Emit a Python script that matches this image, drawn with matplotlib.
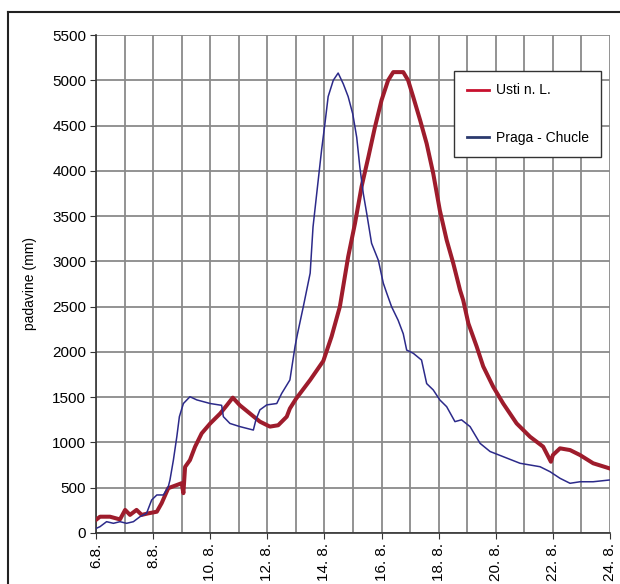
#!/usr/bin/env python3
"""Vodostaj / padavine: Usti n. L. vs Praga - Chucle, avgust."""

import matplotlib
matplotlib.use('Agg')
import matplotlib.pyplot as plt
from matplotlib.lines import Line2D

plt.rcParams['font.family'] = ['Liberation Sans', 'DejaVu Sans']
plt.rcParams['font.size'] = 10

# Usti n. L. (day of August, value)
usti_days = [6.0, 6.14, 6.49, 6.84, 7.02, 7.19, 7.42, 7.6, 7.83, 8.13, 8.3,
             8.53, 8.83, 9.0, 9.06, 9.12, 9.29, 9.47, 9.7, 10.0, 10.35, 10.58,
             10.79, 11.04, 11.39, 11.74, 12.09, 12.38, 12.68, 12.79, 13.0,
             13.5, 13.96, 14.25, 14.54, 14.83, 15.07, 15.3, 15.54, 15.77,
             16.0, 16.23, 16.41, 16.76, 16.93, 17.11, 17.35, 17.58, 17.81,
             18.04, 18.28, 18.51, 18.75, 18.86, 19.04, 19.33, 19.56, 19.91,
             20.26, 20.73, 21.2, 21.66, 21.93, 22.0, 22.25, 22.6, 22.95,
             23.41, 23.97]
usti = [145, 180, 180, 150, 255, 200, 255, 200, 217, 235, 330,
        495, 530, 550, 440, 730, 805, 953, 1100, 1210, 1320, 1410,
        1495, 1410, 1320, 1230, 1175, 1190, 1285, 1375, 1480,
        1690, 1900, 2170, 2500, 3050, 3420, 3825, 4155, 4485,
        4780, 5000, 5090, 5090, 5000, 4815, 4560, 4300, 3970,
        3565, 3235, 2980, 2680, 2570, 2315, 2060, 1840, 1615,
        1430, 1210, 1063, 953, 787, 861, 935, 916, 861,
        770, 715]

# Praga - Chucle
praga_days = [6.0, 6.14, 6.37, 6.61, 6.84, 7.07, 7.31, 7.54, 7.77, 7.95,
              8.13, 8.36, 8.53, 8.59, 8.71, 8.83, 8.92, 9.06, 9.29, 9.53,
              10.0, 10.4, 10.46, 10.69, 11.04, 11.51, 11.6, 11.74, 11.98,
              12.33, 12.5, 12.79, 12.97, 13.05, 13.26, 13.5, 13.6, 13.73,
              13.9, 14.02, 14.13, 14.31, 14.48, 14.66, 14.83, 14.99, 15.13,
              15.24, 15.36, 15.48, 15.65, 15.89, 16.06, 16.18, 16.35, 16.58,
              16.76, 16.88, 17.11, 17.4, 17.58, 17.81, 18.04, 18.28, 18.57,
              18.8, 19.1, 19.45, 19.8, 20.26, 20.85, 21.55, 21.9, 22.25,
              22.6, 22.95, 23.41, 23.97]
praga = [50, 70, 125, 107, 125, 107, 125, 180, 217, 365,
         420, 420, 510, 585, 805, 1063, 1285, 1430, 1505, 1470,
         1430, 1410, 1285, 1210, 1175, 1137, 1250, 1360, 1415,
         1430, 1540, 1690, 2060, 2190, 2500, 2870, 3380, 3750,
         4230, 4530, 4820, 5000, 5080, 4960, 4820, 4630, 4370,
         4040, 3750, 3530, 3200, 3010, 2760, 2650, 2500, 2350,
         2200, 2020, 1985, 1910, 1650, 1580, 1470, 1395, 1230,
         1250, 1175, 990, 900, 843, 770, 732, 677, 604,
         549, 566, 566, 585]

x_ticks = list(range(6, 25, 2))
x_labels = [f'{d}. 8.' if d >= 10 else f'{d}.8.' for d in x_ticks]
y_ticks = list(range(0, 5501, 500))

RED = '#9e1c2c'
BLUE = '#2c2a8a'
GRID = '#8a8a8a'


def main():
    fig = plt.figure(figsize=(6.2, 5.84), dpi=100)
    ax = fig.add_axes([96 / 620, 1 - 533 / 584, 514 / 620, 498 / 584])

    ax.plot(usti_days, usti, color=RED, lw=2.9, label='Usti n. L.', zorder=3)
    ax.plot(praga_days, praga, color=BLUE, lw=1.1, label='Praga - Chucle', zorder=4)

    ax.set_xlim(6, 24)
    ax.set_ylim(0, 5500)
    ax.set_xticks(x_ticks)
    ax.set_xticklabels(x_labels, rotation=90, fontsize=11)
    ax.set_xticks(range(6, 25), minor=True)
    ax.set_yticks(y_ticks)
    ax.set_yticklabels([str(v) for v in y_ticks], fontsize=11)
    ax.tick_params(axis='x', which='minor', length=0)
    ax.tick_params(axis='both', which='major', length=4, color='#333333', pad=3)

    ax.grid(True, which='both', color=GRID, lw=1.3)
    ax.set_axisbelow(True)
    for side in ['top', 'right']:
        ax.spines[side].set_visible(False)
    for side in ['left', 'bottom']:
        ax.spines[side].set_color('#333333')
        ax.spines[side].set_linewidth(1.2)

    ax.set_ylabel('padavine (mm)', fontsize=10)
    ax.yaxis.set_label_coords(-0.115, 0.5)

    handles = [Line2D([], [], color='#c8102e', lw=2),
               Line2D([], [], color='#2b3a6e', lw=2)]
    leg = ax.legend(handles, ['Usti n. L.', 'Praga - Chucle'],
                    loc='upper left', bbox_to_anchor=((454 - 96) / 514, 1 - (71 - 35) / 498),
                    borderaxespad=0, fontsize=10, frameon=True, fancybox=False,
                    framealpha=1, edgecolor='#333333', handlelength=1.6,
                    handletextpad=0.5, labelspacing=2.4, borderpad=0.9)
    leg.get_frame().set_linewidth(1.0)

    # outer frame of the figure (left and top edges)
    fig.add_artist(Line2D([8 / 620, 8 / 620], [0, 1 - 12 / 584],
                          transform=fig.transFigure, color='#222222', lw=1.5))
    fig.add_artist(Line2D([8 / 620, 1], [1 - 12 / 584, 1 - 12 / 584],
                          transform=fig.transFigure, color='#222222', lw=1.5))

    fig.savefig('out.png', dpi=100, facecolor='white')
    plt.close(fig)


if __name__ == '__main__':
    main()
